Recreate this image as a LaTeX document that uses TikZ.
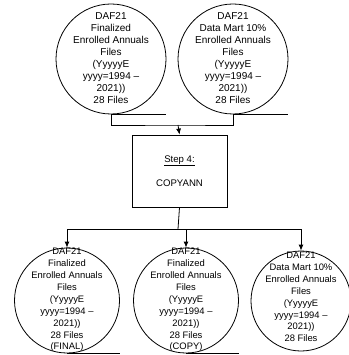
\documentclass[tikz,border=0pt]{standalone}
\usepackage{fontspec}
\setmainfont{Liberation Sans}
\usepackage{tikz}
\usetikzlibrary{arrows, arrows.meta}
\tikzset{disk/.style = {shape = circle, draw, line width = 0.8pt, minimum size = 110pt, inner sep = 0pt}}
\tikzset{smalldisk/.style = {disk, minimum size = 105pt}}
\tikzset{disktext/.style = {align = center, inner sep = 0pt, font = \fontsize{10}{12}\selectfont}}
\tikzset{smalltext/.style = {disktext, font = \fontsize{9.4}{11.9}\selectfont}}
\tikzset{stepbox/.style = {shape = rectangle, draw, line width = 0.8pt, minimum width = 95pt, minimum height = 72pt, align = center, font = \fontsize{9.6}{12}\selectfont}}
\tikzset{edge/.style = {-, line width = 0.8pt}}
\tikzset{arrow/.style = {edge, -{Latex[length = 6pt, width = 5pt]}}}

\begin{document}
\begin{tikzpicture}[x = 1pt, y = -1pt]
	\useasboundingbox (0, 0) rectangle (348, 355);

	% input files
	\node[disk] (tl) at (111, 59) {};
	\node[disktext] (tl-text) at (111, 58) {DAF21\\Finalized\\Enrolled Annuals\\Files\\(YyyyyE\\yyyy=1994 --\\2021))\\28 Files};
	\node[disk] (tr) at (233, 59) {};
	\node[disktext] (tr-text) at (233, 58) {DAF21\\Data Mart 10\%\\Enrolled Annuals\\Files\\(YyyyyE\\yyyy=1994 --\\2021))\\28 Files};

	\draw[edge] (tl.south) to (tl.south -| tl.east);
	\draw[edge] (tr.south) to (tr.south -| tr.east);

	% step
	\node[stepbox] (step) at (179.5, 171) {\underline{Step 4:}\\[12pt]COPYANN};

	\coordinate (join) at (178, 125);
	\draw[edge] (tl.south) |- (join) -| (tr.south);
	\draw[arrow] (join) to (step.north);

	% output files
	\node[smalldisk] (bl) at (67, 300.5) {};
	\node[smalltext] (bl-text) at (67, 300) {DAF21\\Finalized\\Enrolled Annuals\\Files\\(YyyyyE\\yyyy=1994 --\\2021))\\28 Files\\(FINAL)};
	\node[smalldisk] (bm) at (186, 300.5) {};
	\node[smalltext] (bm-text) at (186, 300) {DAF21\\Finalized\\Enrolled Annuals\\Files\\(YyyyyE\\yyyy=1994 --\\2021))\\28 Files\\(COPY)};
	\node[smalldisk, minimum size = 100pt] (br) at (301, 301) {};
	\node[smalltext] (br-text) at (301, 297) {DAF21\\Data Mart 10\%\\Enrolled Annuals\\Files\\(YyyyyE\\yyyy=1994 --\\2021))\\28 Files};

	\draw[edge] (bl.south) to (bl.south -| bl.east);
	\draw[edge] (bm.south) to (bm.south -| bm.east);

	\coordinate (split) at (178, 229);
	\draw[edge] (step.south) to (split);
	\draw[arrow] (split) -| (bl.north);
	\draw[arrow] (split) -| (bm.north);
	\draw[arrow] (split) -| (br.north);
\end{tikzpicture}
\end{document}
